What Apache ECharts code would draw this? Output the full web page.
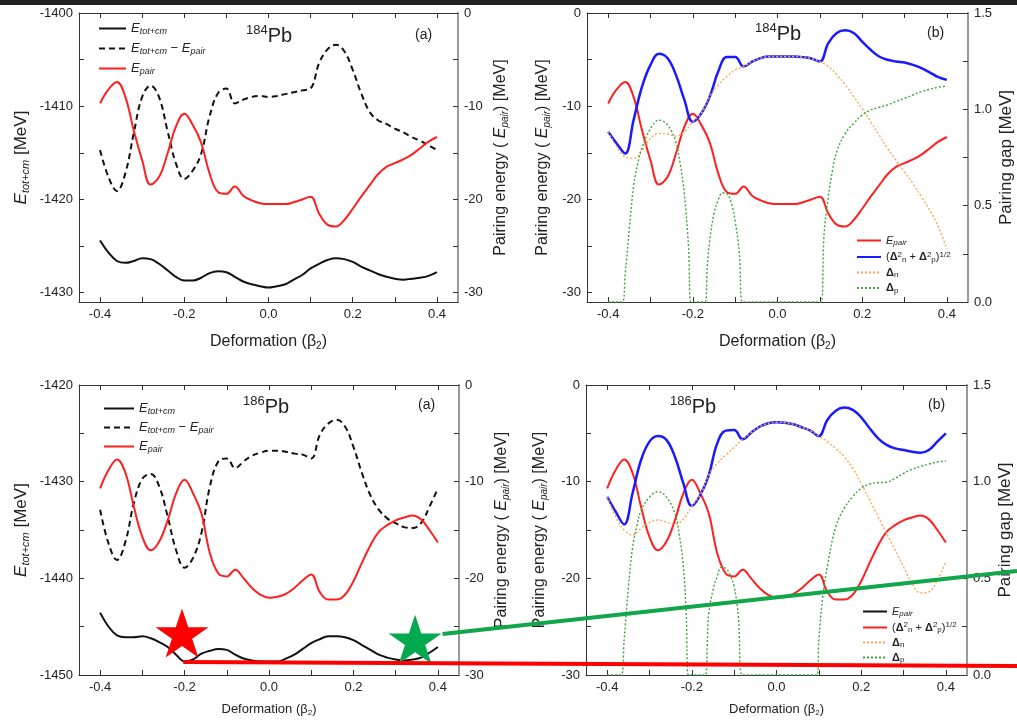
<!DOCTYPE html>
<html>
<head>
<meta charset="utf-8">
<script src="https://cdn.jsdelivr.net/npm/echarts@6/dist/echarts.min.js"></script>
<style>
  html, body { margin: 0; padding: 0; background: #ffffff; }
  #chart { width: 1017px; height: 721px; }
</style>
</head>
<body>
<div id="chart"></div>
<script>
// Quadrupole deformation grid shared by most curves
const beta = [-0.40,-0.38,-0.36,-0.34,-0.32,-0.30,-0.28,-0.26,-0.24,-0.22,-0.20,-0.18,-0.16,-0.14,-0.12,-0.10,-0.08,-0.06,-0.04,-0.02,0.00,0.02,0.04,0.06,0.08,0.10,0.12,0.14,0.16,0.18,0.20,0.22,0.24,0.26,0.28,0.30,0.32,0.34,0.36,0.38,0.40];

// ---- 184Pb ----
const eTot184 = [-1424.4,-1425.7,-1426.6,-1426.8,-1426.6,-1426.3,-1426.4,-1426.9,-1427.6,-1428.3,-1428.7,-1428.7,-1428.4,-1427.9,-1427.7,-1427.8,-1428.3,-1428.8,-1429.1,-1429.3,-1429.45,-1429.3,-1429.1,-1428.6,-1428.1,-1427.4,-1426.9,-1426.5,-1426.3,-1426.4,-1426.7,-1427.2,-1427.6,-1428.0,-1428.3,-1428.5,-1428.6,-1428.5,-1428.4,-1428.2,-1427.8];
const eDiff184 = [-1414.7,-1417.6,-1419.1,-1417.2,-1412.9,-1409.0,-1407.8,-1409.0,-1412.6,-1416.1,-1417.8,-1416.9,-1415.1,-1411.1,-1408.6,-1408.1,-1409.7,-1409.3,-1409.0,-1408.9,-1409.0,-1408.9,-1408.7,-1408.5,-1408.3,-1408.1,-1405.4,-1403.9,-1403.4,-1404.1,-1406.1,-1408.6,-1410.6,-1411.5,-1411.9,-1412.4,-1412.8,-1413.3,-1413.7,-1414.2,-1414.7];
const ePair184 = [-9.7,-8.2,-7.4,-9.0,-12.6,-15.8,-18.4,-17.6,-15.1,-12.2,-10.8,-12.0,-13.9,-17.2,-19.2,-19.4,-18.6,-19.6,-20.1,-20.4,-20.5,-20.5,-20.5,-20.3,-20.0,-19.7,-21.5,-22.7,-22.9,-22.2,-21.0,-19.7,-18.5,-17.3,-16.5,-16.1,-15.7,-15.2,-14.5,-13.8,-13.3];
const gapTot184 = [0.884,0.823,0.771,0.944,1.118,1.231,1.288,1.266,1.179,1.049,0.936,0.979,1.066,1.196,1.271,1.271,1.222,1.248,1.266,1.274,1.274,1.274,1.274,1.271,1.264,1.248,1.344,1.396,1.410,1.396,1.352,1.309,1.274,1.257,1.248,1.243,1.231,1.214,1.191,1.167,1.153];
const gapN184 = [0.884,0.806,0.753,0.745,0.788,0.849,0.875,0.872,0.861,0.884,0.936,0.979,1.066,1.127,1.170,1.205,1.222,1.248,1.266,1.274,1.274,1.274,1.274,1.271,1.264,1.248,1.222,1.179,1.127,1.066,1.005,0.936,0.866,0.797,0.736,0.675,0.615,0.545,0.476,0.389,0.276];
const betaP184 = [-0.40,-0.367,-0.36,-0.35,-0.34,-0.33,-0.32,-0.30,-0.28,-0.26,-0.24,-0.23,-0.22,-0.21,-0.204,-0.171,-0.166,-0.16,-0.15,-0.14,-0.13,-0.12,-0.11,-0.10,-0.09,-0.082,0.102,0.11,0.12,0.13,0.14,0.16,0.18,0.20,0.22,0.24,0.26,0.28,0.30,0.32,0.34,0.36,0.38,0.40];
const gapP184 = [0,0,0.14,0.38,0.60,0.72,0.80,0.90,0.944,0.92,0.83,0.72,0.56,0.28,0,0,0.18,0.32,0.46,0.53,0.566,0.563,0.52,0.42,0.25,0,0,0.35,0.545,0.684,0.78,0.875,0.927,0.97,0.997,1.01,1.023,1.04,1.057,1.075,1.092,1.104,1.115,1.12];

// ---- 186Pb ----
const eTot186 = [-1443.55,-1445.0,-1445.9,-1446.1,-1446.1,-1446.0,-1446.2,-1446.6,-1447.1,-1447.9,-1448.6,-1448.4,-1447.8,-1447.5,-1447.3,-1447.4,-1447.9,-1448.3,-1448.5,-1448.6,-1448.6,-1448.6,-1448.3,-1447.9,-1447.3,-1446.7,-1446.3,-1446.0,-1446.0,-1446.1,-1446.4,-1446.9,-1447.4,-1447.9,-1448.2,-1448.4,-1448.5,-1448.4,-1448.2,-1447.7,-1447.1];
const eDiff186 = [-1432.9,-1436.4,-1438.1,-1436.2,-1432.2,-1429.7,-1429.2,-1430.5,-1433.6,-1437.1,-1438.9,-1437.9,-1435.3,-1430.5,-1427.9,-1427.6,-1428.6,-1427.9,-1427.3,-1427.0,-1426.8,-1426.8,-1426.9,-1427.1,-1427.2,-1427.6,-1425.2,-1424.0,-1423.6,-1424.3,-1426.4,-1429.1,-1431.4,-1432.9,-1433.8,-1434.3,-1434.7,-1434.8,-1434.3,-1432.6,-1430.7];
const ePair186 = [-10.7,-8.8,-7.7,-9.1,-12.6,-15.7,-17.1,-16.2,-14.0,-11.2,-9.8,-11.2,-13.3,-17.4,-19.5,-19.8,-19.1,-20.0,-21.0,-21.7,-22.0,-21.9,-21.6,-21.0,-20.2,-19.6,-21.4,-22.2,-22.2,-21.7,-20.3,-18.4,-16.6,-15.2,-14.5,-14.0,-13.7,-13.5,-13.9,-15.0,-16.3];
const gapTot186 = [0.922,0.845,0.779,0.940,1.112,1.207,1.236,1.216,1.129,0.991,0.874,0.931,1.034,1.198,1.264,1.267,1.219,1.253,1.284,1.302,1.307,1.305,1.297,1.281,1.264,1.236,1.319,1.367,1.383,1.371,1.333,1.276,1.224,1.190,1.172,1.164,1.155,1.150,1.164,1.207,1.250];
const gapN186 = [0.922,0.819,0.750,0.724,0.759,0.788,0.802,0.790,0.781,0.805,0.874,0.931,1.034,1.095,1.138,1.178,1.219,1.253,1.284,1.302,1.307,1.305,1.297,1.281,1.264,1.236,1.207,1.172,1.129,1.069,0.991,0.905,0.819,0.733,0.647,0.560,0.474,0.425,0.430,0.491,0.586];
const betaP186 = [-0.40,-0.367,-0.36,-0.35,-0.34,-0.33,-0.32,-0.30,-0.28,-0.26,-0.24,-0.23,-0.22,-0.213,-0.208,-0.168,-0.163,-0.16,-0.15,-0.14,-0.13,-0.12,-0.11,-0.10,-0.09,-0.081,0.096,0.10,0.11,0.12,0.14,0.16,0.18,0.20,0.22,0.24,0.26,0.28,0.30,0.32,0.34,0.36,0.38,0.40];
const gapP186 = [0,0,0.18,0.45,0.66,0.77,0.85,0.92,0.948,0.92,0.836,0.73,0.56,0.30,0,0,0.20,0.32,0.44,0.51,0.557,0.552,0.52,0.457,0.30,0,0,0.18,0.42,0.56,0.767,0.862,0.922,0.966,0.988,0.995,0.997,1.017,1.043,1.064,1.078,1.091,1.102,1.107];

// Highlighted minima on the 186Pb energy surface (star markers) and guide lines
const markerPoints = [[-0.206, -1445.65], [0.346, -1446.3]];
const markerColors = ['#ff0000', '#04a84e'];
const guideColors = ['#ff0000', '#12a64a'];
const guideStart = [[-0.203, -1448.65], [0.411, -1445.76]];
const guideSlope = [0.0048, -0.1096];

// Tick positions and labels
const betaLabels = [-0.4, -0.2, 0, 0.2, 0.4];
const betaTicks = [-0.4, -0.3, -0.2, -0.1, 0, 0.1, 0.2, 0.3, 0.4];
const eLabels184 = [-1430, -1420, -1410, -1400];
const eTicks184 = [-1430, -1425, -1420, -1415, -1410, -1405, -1400];
const eLabels186 = [-1450, -1440, -1430, -1420];
const eTicks186 = [-1450, -1445, -1440, -1435, -1430, -1425, -1420];
const pairLabels = [-30, -20, -10, 0];
const pairTicks = [-30, -25, -20, -15, -10, -5, 0];
const gapLabels = [0, 0.5, 1.0, 1.5];
const gapTicks = [0, 0.25, 0.5, 0.75, 1.0, 1.25, 1.5];

const FONT = '"Liberation Sans", Arial, Helvetica, sans-serif';
const TXT = '#222';
const RED = '#ff1f1f', BLUE = '#1a1aff', ORANGE = '#ffa64d', GREEN = '#3aa63a', BLACK = '#111111';

const pairs = (xs, ys) => xs.map((x, i) => [x, ys[i]]);

const grids = [
  { left: 79, top: 13, width: 379, height: 289 },
  { left: 587, top: 13, width: 381, height: 289 },
  { left: 79, top: 385, width: 380, height: 290 },
  { left: 586, top: 385, width: 381, height: 290 }
].map(g => Object.assign({ containLabel: false, outerBoundsMode: 'none' }, g));

function nameRich(size) {
  const small = Math.round(size * 0.65);
  return {
    n: { fontSize: size, fontWeight: 'normal', fontFamily: FONT, color: TXT, lineHeight: size + 3, verticalAlign: 'middle' },
    it: { fontSize: size, fontWeight: 'normal', fontStyle: 'italic', fontFamily: FONT, color: TXT, lineHeight: size + 3, verticalAlign: 'middle' },
    sub: { fontSize: small, fontWeight: 'normal', fontStyle: 'italic', fontFamily: FONT, color: TXT, lineHeight: small, verticalAlign: 'bottom' },
    sb: { fontSize: small, fontWeight: 'normal', fontFamily: FONT, color: TXT, lineHeight: small, verticalAlign: 'bottom' }
  };
}

function xAxes(gi, nameSize, nameGap) {
  const base = {
    gridIndex: gi, type: 'value', min: -0.45, max: 0.45,
    splitLine: { show: false }, nameMoveOverlap: false
  };
  return [
    Object.assign({}, base, {
      position: 'bottom',
      axisLine: { show: true, onZero: false, lineStyle: { color: '#333', width: 1 } },
      axisTick: { show: true, inside: true, length: 5, customValues: betaTicks, lineStyle: { color: '#333' } },
      axisLabel: { show: true, customValues: betaLabels, formatter: v => v.toFixed(1), fontSize: 13, color: TXT, fontFamily: FONT, margin: 6 },
      name: '{n|Deformation (β}{sb|2}{n|)}',
      nameLocation: 'middle', nameGap: nameGap,
      nameTextStyle: { rich: nameRich(nameSize) }
    }),
    Object.assign({}, base, {
      position: 'top',
      axisLine: { show: true, onZero: false, lineStyle: { color: '#333', width: 1 } },
      axisTick: { show: true, inside: true, length: 5, customValues: betaTicks, lineStyle: { color: '#333' } },
      axisLabel: { show: false }
    })
  ];
}

function yAxis(gi, side, min, max, labels, ticks, fmt, name, nameGap, nameSize) {
  const right = side === 'right';
  return {
    gridIndex: gi, type: 'value', position: side, min: min, max: max,
    splitLine: { show: false }, nameMoveOverlap: false,
    axisLine: { show: true, onZero: false, lineStyle: { color: right ? '#9a9a9a' : '#333', width: right ? 2 : 1 } },
    axisTick: { show: true, inside: true, length: 5, customValues: ticks, lineStyle: { color: '#333' } },
    axisLabel: { show: true, customValues: labels, formatter: fmt, fontSize: 13, color: TXT, fontFamily: FONT, margin: 6 },
    name: name, nameLocation: 'middle', nameGap: nameGap, nameRotate: 90,
    nameTextStyle: { rich: nameRich(nameSize) }
  };
}

const intFmt = v => String(Math.round(v));
const gapFmt = v => v.toFixed(1);
const nameETot = '{it|E}{sub|tot+cm}{n| [MeV]}';
const namePair = '{n|Pairing energy ( }{it|E}{sub|pair}{n|) [MeV]}';
const nameGapTxt = '{n|Pairing gap [MeV]}';

const xAxisList = [].concat(xAxes(0, 16, 30), xAxes(1, 16, 30), xAxes(2, 13, 26), xAxes(3, 13, 26));
const yAxisList = [
  yAxis(0, 'left', -1431, -1400, eLabels184, eTicks184, intFmt, nameETot, 48, 17),
  yAxis(0, 'right', -31, 0, pairLabels, pairTicks, intFmt, namePair, 33, 16),
  yAxis(1, 'left', -31, 0, pairLabels, pairTicks, intFmt, namePair, 35, 16),
  yAxis(1, 'right', 0, 1.5, gapLabels, gapTicks, gapFmt, nameGapTxt, 28, 17),
  yAxis(2, 'left', -1450, -1420, eLabels186, eTicks186, intFmt, nameETot, 48, 17),
  yAxis(2, 'right', -30, 0, pairLabels, pairTicks, intFmt, namePair, 33, 16),
  yAxis(3, 'left', -30, 0, pairLabels, pairTicks, intFmt, namePair, 37, 16),
  yAxis(3, 'right', 0, 1.5, gapLabels, gapTicks, gapFmt, nameGapTxt, 28, 17)
];

function line(name, gi, yRight, data, color, width, type) {
  return {
    type: 'line', name: name, xAxisIndex: 2 * gi, yAxisIndex: 2 * gi + (yRight ? 1 : 0),
    data: data, symbol: 'none', showSymbol: false, smooth: 0.4,
    lineStyle: { color: color, width: width, type: type || 'solid' },
    itemStyle: { color: color }, animation: false
  };
}

// Five-pointed star outline for the minimum markers
const starPath = (() => {
  const pts = [];
  for (let k = 0; k < 10; k++) {
    const a = (-90 + k * 36) * Math.PI / 180;
    const r = k % 2 === 0 ? 50 : 19.1;
    pts.push((50 + r * Math.cos(a)).toFixed(2) + ' ' + (50 + r * Math.sin(a)).toFixed(2));
  }
  return 'path://M' + pts.join(' L') + ' Z';
})();

const series = [
  line('Etot', 0, false, pairs(beta, eTot184), BLACK, 2),
  line('Ediff', 0, false, pairs(beta, eDiff184), BLACK, 2, [6, 4]),
  line('Epair', 0, true, pairs(beta, ePair184), RED, 2),

  line('Epair', 1, false, pairs(beta, ePair184), RED, 2),
  line('gapTot', 1, true, pairs(beta, gapTot184), BLUE, 2.5),
  line('gapN', 1, true, pairs(beta, gapN184), ORANGE, 1.4, [2, 2]),
  line('gapP', 1, true, pairs(betaP184, gapP184), GREEN, 1.4, [2, 2]),

  line('Etot', 2, false, pairs(beta, eTot186), BLACK, 2),
  line('Ediff', 2, false, pairs(beta, eDiff186), BLACK, 2, [6, 4]),
  line('Epair', 2, true, pairs(beta, ePair186), RED, 2),

  line('Epair', 3, false, pairs(beta, ePair186), RED, 2),
  line('gapTot', 3, true, pairs(beta, gapTot186), BLUE, 2.5),
  line('gapN', 3, true, pairs(beta, gapN186), ORANGE, 1.4, [2, 2]),
  line('gapP', 3, true, pairs(betaP186, gapP186), GREEN, 1.4, [2, 2]),

  {
    type: 'scatter', name: 'minima', xAxisIndex: 4, yAxisIndex: 4, z: 20, clip: false,
    symbol: starPath, symbolSize: [53, 49], animation: false,
    data: markerPoints.map((p, i) => ({ value: p, itemStyle: { color: markerColors[i], opacity: 1 } }))
  }
];

const legendLabels = {
  Etot: '{i|E}{s|tot+cm}',
  Ediff: '{i|E}{s|tot+cm}{n| − }{i|E}{s|pair}',
  Epair: '{i|E}{s|pair}',
  gapTot: '{n|(}{d|Δ}{p|2}{b|n}{n| + }{d|Δ}{p|2}{b|p}{n|)}{p|1/2}',
  gapN: '{d|Δ}{b|n}',
  gapP: '{d|Δ}{b|p}'
};

function legendRich(size) {
  const small = Math.round(size * 0.7);
  return {
    n: { fontSize: size, fontFamily: FONT, color: TXT, lineHeight: size + 2, verticalAlign: 'middle' },
    d: { fontSize: size, fontWeight: 'bold', fontFamily: FONT, color: TXT, lineHeight: size + 2, verticalAlign: 'middle' },
    i: { fontSize: size, fontStyle: 'italic', fontFamily: FONT, color: TXT, lineHeight: size + 2, verticalAlign: 'middle' },
    s: { fontSize: small, fontStyle: 'italic', fontFamily: FONT, color: TXT, lineHeight: small, verticalAlign: 'bottom' },
    b: { fontSize: small, fontFamily: FONT, color: TXT, lineHeight: small, verticalAlign: 'bottom' },
    p: { fontSize: small, fontFamily: FONT, color: TXT, lineHeight: small, verticalAlign: 'top' }
  };
}

// Legend samples show only the line (the point marker is made fully transparent)
function legend(left, top, itemWidth, itemHeight, itemGap, size, data) {
  return {
    left: left, top: top, orient: 'vertical', padding: 0,
    itemWidth: itemWidth, itemHeight: itemHeight, itemGap: itemGap,
    data: data, selectedMode: false,
    itemStyle: { opacity: 0 },
    formatter: n => legendLabels[n],
    textStyle: { rich: legendRich(size), padding: [0, 0, 0, 0] }
  };
}

const legends = [
  legend(98, 22, 27, 14, 6, 13, ['Etot', 'Ediff', 'Epair']),
  legend(856, 235, 24, 12, 3.5, 11, ['Epair', 'gapTot', 'gapN', 'gapP']),
  legend(103, 402, 30, 14, 5, 13, ['Etot', 'Ediff', 'Epair']),
  legend(862, 606, 24, 12, 3, 11, [
    { name: 'Epair', lineStyle: { color: BLACK }, itemStyle: { color: BLACK, opacity: 0 } },
    { name: 'gapTot', lineStyle: { color: RED, width: 2 }, itemStyle: { color: RED, opacity: 0 } },
    'gapN', 'gapP'
  ])
];

const titleRich = {
  s: { fontSize: 13, fontWeight: 'normal', fontFamily: FONT, color: TXT, lineHeight: 13, verticalAlign: 'top' },
  b: { fontSize: 20, fontWeight: 'normal', fontFamily: FONT, color: TXT, lineHeight: 24, verticalAlign: 'middle' },
  t: { fontSize: 14, fontWeight: 'normal', fontFamily: FONT, color: TXT, lineHeight: 16 }
};
function title(text, left, top) {
  return { text: text, left: left, top: top, padding: 0, textStyle: { fontWeight: 'normal', rich: titleRich } };
}
const titles = [
  title('{s|184}{b|Pb}', 246, 24), title('{t|(a)}', 415, 27),
  title('{s|184}{b|Pb}', 755, 22), title('{t|(b)}', 927, 25),
  title('{s|186}{b|Pb}', 243, 395), title('{t|(a)}', 418, 397),
  title('{s|186}{b|Pb}', 670, 395), title('{t|(b)}', 928, 397)
];

const chart = echarts.init(document.getElementById('chart'), null, { renderer: 'canvas' });
chart.setOption({
  animation: false,
  backgroundColor: '#ffffff',
  textStyle: { fontFamily: FONT },
  grid: grids,
  xAxis: xAxisList,
  yAxis: yAxisList,
  legend: legends,
  title: titles,
  series: series
});

// Guide lines from the marked minima out to the right edge, plus the dark top strip
const W = chart.getWidth();
const guides = guideStart.map((p, i) => {
  const s = chart.convertToPixel({ xAxisIndex: 4, yAxisIndex: 4 }, p);
  return {
    type: 'line', z: 100,
    shape: { x1: s[0], y1: s[1], x2: W, y2: s[1] + guideSlope[i] * (W - s[0]) },
    style: { stroke: guideColors[i], lineWidth: 4 }
  };
});
chart.setOption({
  graphic: [{ type: 'rect', z: 100, shape: { x: 0, y: 0, width: W, height: 5 }, style: { fill: '#222222' } }].concat(guides)
});
</script>
</body>
</html>
